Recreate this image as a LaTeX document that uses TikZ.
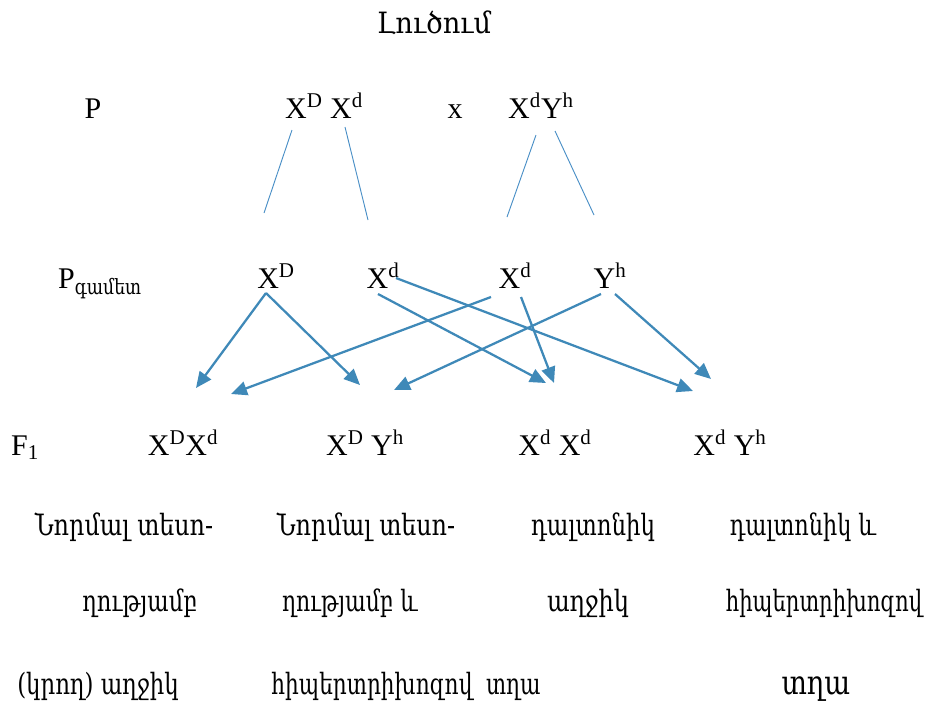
\documentclass[tikz,border=0pt]{standalone}
\usepackage{fontspec}
\usepackage{graphicx}
\setmainfont{Liberation Serif}
\newfontfamily\arm[FakeStretch=0.82]{DejaVu Serif}
\usetikzlibrary{arrows.meta}
\definecolor{arrc}{HTML}{3F89B8}
\definecolor{thinc}{HTML}{4A8FC6}
\newcommand\hsc[2]{\scalebox{#1}[1]{#2}}
\begin{document}
\begin{tikzpicture}[x=0.75pt,y=-0.75pt,
  txt/.style={font=\fontsize{22.5}{26}\selectfont, inner sep=0pt, anchor=base},
  atxt/.style={font=\fontsize{22}{26}\selectfont\arm, inner sep=0pt, anchor=base},
  thinline/.style={draw=thinc, line width=0.7pt},
  arr/.style={draw=arrc, line width=1.7pt, -{Triangle[length=12pt,width=10.5pt]}}]
\useasboundingbox (0,0) rectangle (930,700);
% title and parents
\node[atxt] (title) at (434,33) {\hsc{1.13}{Լուծում}};
\node[txt] (P) at (93,118) {P};
\node[txt] (p1) at (324,118) {X\textsuperscript{D} X\textsuperscript{d}};
\node[txt] (cross) at (455,118) {x};
\node[txt] (p2) at (541,118) {X\textsuperscript{d}Y\textsuperscript{h}};
% thin lines
\coordinate (t1a) at (292,130); \coordinate (t1b) at (264,213);
\coordinate (t2a) at (345,127); \coordinate (t2b) at (368,220);
\coordinate (t3a) at (536,135); \coordinate (t3b) at (507,217);
\coordinate (t4a) at (555,131); \coordinate (t4b) at (594,215);
\draw[thinline] (t1a) -- (t1b);
\draw[thinline] (t2a) -- (t2b);
\draw[thinline] (t3a) -- (t3b);
\draw[thinline] (t4a) -- (t4b);
% gametes
\node[txt] (Pg) at (100,288) {P\textsubscript{\arm գամետ}};
\node[txt] (g1) at (276,288) {X\textsuperscript{D}};
\node[txt] (g2) at (383,288) {X\textsuperscript{d}};
\node[txt] (g3) at (515,288) {X\textsuperscript{d}};
\node[txt] (g4) at (610,288) {Y\textsuperscript{h}};
% F1
\node[txt] (F) at (25,455) {F\textsubscript{1}};
\node[txt] (f1) at (183,455) {X\textsuperscript{D}X\textsuperscript{d}};
\node[txt] (f2) at (365,455) {X\textsuperscript{D} Y\textsuperscript{h}};
\node[txt] (f3) at (555,455) {X\textsuperscript{d} X\textsuperscript{d}};
\node[txt] (f4) at (730,455) {X\textsuperscript{d} Y\textsuperscript{h}};
% arrows
\coordinate (a1s) at (266,293); \coordinate (a1e) at (196,388);
\coordinate (a2s) at (266,293); \coordinate (a2e) at (360,385);
\coordinate (a3s) at (491,297); \coordinate (a3e) at (231,394);
\coordinate (a4s) at (378,294); \coordinate (a4e) at (546,383);
\coordinate (a5s) at (396,278); \coordinate (a5e) at (693,391);
\coordinate (a6s) at (521,297); \coordinate (a6e) at (554,383);
\coordinate (a7s) at (601,294); \coordinate (a7e) at (394,390);
\coordinate (a8s) at (615,294); \coordinate (a8e) at (711,379);
\draw[arr] (a1s) -- (a1e);
\draw[arr] (a2s) -- (a2e);
\draw[arr] (a3s) -- (a3e);
\draw[arr] (a4s) -- (a4e);
\draw[arr] (a5s) -- (a5e);
\draw[arr] (a6s) -- (a6e);
\draw[arr] (a7s) -- (a7e);
\draw[arr] (a8s) -- (a8e);
% descriptions
\node[atxt] (r1a) at (124,535) {\hsc{0.99}{Նորմալ տեսո-}};
\node[atxt] (r1b) at (366,535) {\hsc{0.99}{Նորմալ տեսո-}};
\node[atxt] (r1c) at (593,535) {\hsc{0.95}{դալտոնիկ}};
\node[atxt] (r1d) at (803,535) {\hsc{0.93}{դալտոնիկ և}};
\node[atxt] (r2a) at (140,611) {\hsc{0.94}{ղությամբ}};
\node[atxt] (r2b) at (350,611) {\hsc{0.91}{ղությամբ և}};
\node[atxt] (r2c) at (588,611) {աղջիկ};
\node[atxt] (r2d) at (824,611) {\hsc{0.88}{հիպերտրիխոզով}};
\node[atxt] (r3a) at (98,694) {\hsc{0.95}{(կրող) աղջիկ}};
\node[atxt] (r3b) at (406,694) {\hsc{0.90}{հիպերտրիխոզով\ \ տղա}};
\node[atxt, font=\fontsize{25}{29}\selectfont\arm] (r3c) at (816,694) {տղա};
\end{tikzpicture}
\end{document}
